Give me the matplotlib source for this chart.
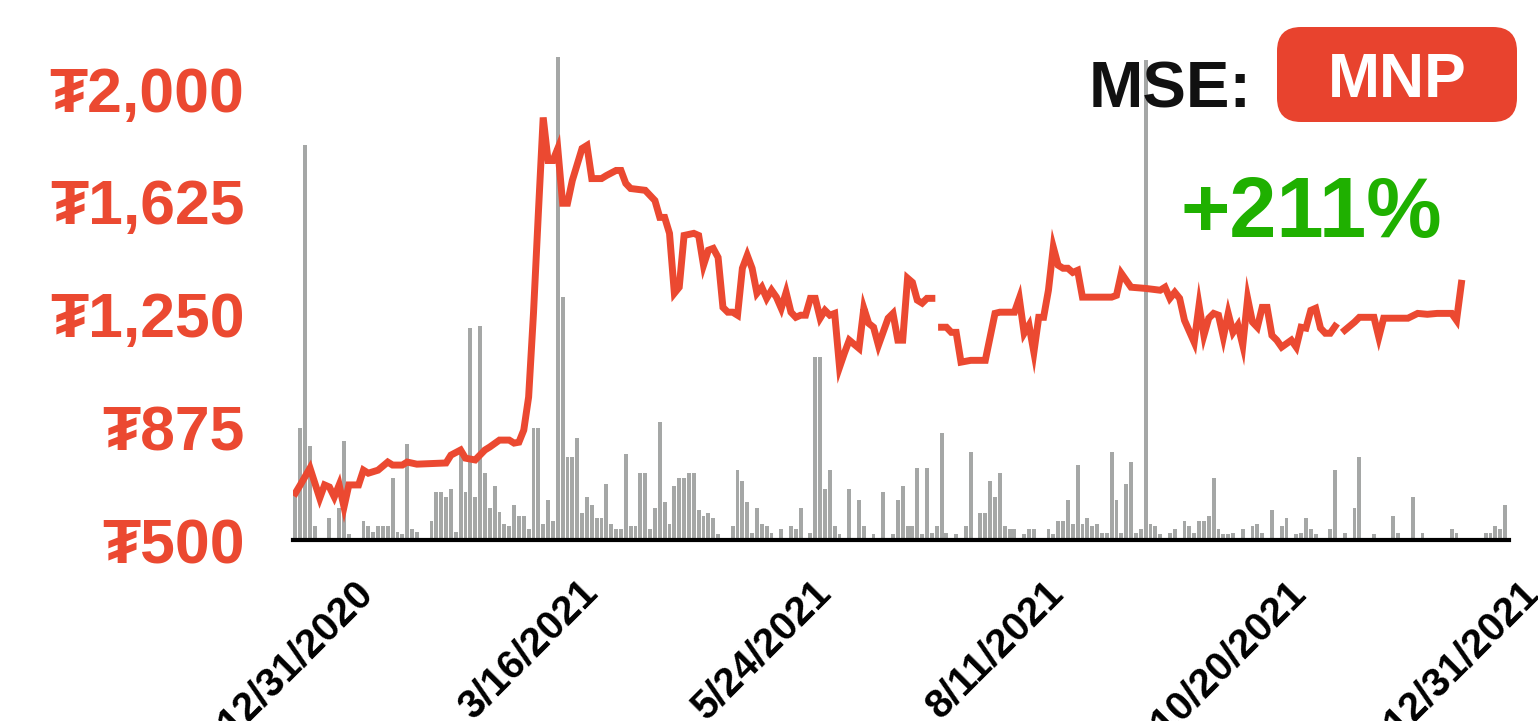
import numpy as np
import matplotlib.pyplot as plt
from matplotlib.patches import FancyBboxPatch

# closing price by trading session (nan = no trade)
price_day = [0, 1, 3, 5, 6, 7, 8, 9, 10, 11, 13, 14, 15, 17, 19, 20, 22, 23, 25, 31,
             32, 34, 35, 37, 39, 40, 42, 44, 45, 46, 47, 48, 49, 50, 51, 52, 53, 54, 55, 56,
             57, 59, 60, 61, 63, 64, 66, 67, 68, 69, 72, 73, 74, 75, 76, 77, 78, 79, 80, 82,
             83, 84, 85, 86, 87, 88, 89, 90, 91, 92, 93, 94, 95, 96, 97, 98, 99, 100, 101, 102,
             103, 104, 105, 106, 107, 108, 109, 110, 111, 112, 113, 114, 116, 117, 118, 119, 120, 122, 123, 124,
             125, 126, 127, 128, 129, 130, 131, 132, 133, 134, 135, 136, 137, 139, 142, 144, 145, 148, 149, 150,
             151, 152, 153, 154, 155, 156, 157, 158, 159, 160, 161, 162, 168, 169, 170, 171, 172, 175, 178, 179,
             180, 181, 182, 183, 185, 186, 187, 188, 189, 190, 191, 192, 193, 194, 195, 196, 197, 198, 199, 200,
             201, 202, 203, 205, 206, 207, 208, 209, 210, 211, 212, 213, 214, 215, 216, 218, 219, 222, 223, 224,
             229, 231, 233, 235, 238, 239, 240]
price_close = [656, 683, 739, 639, 683, 676, 643, 683, 610, 683, 683, 732, 722, 732, 759, 749, 749, 759, 752, 756,
               782, 799, 772, 766, 799, 809, 832, 832, 822, 825, 865, 975, 1253, 1585, 1904, 1761, 1761, 1801, 1619, 1619,
               1695, 1801, 1811, 1701, 1701, 1711, 1728, 1728, 1685, 1668, 1662, 1645, 1628, 1572, 1572, 1519, 1320, 1340, 1512, 1519,
               1512, 1413, 1463, 1469, 1439, 1273, 1257, 1257, 1247, 1403, 1446, 1403, 1320, 1340, 1303, 1330, 1307, 1270, 1323, 1257,
               1240, 1247, 1247, 1303, 1303, 1237, 1263, 1247, 1253, 1074, 1121, 1164, 1137, 1270, 1220, 1207, 1147, 1237, 1253, 1164,
               1164, 1370, 1356, 1297, 1287, 1303, 1303, np.nan, 1207, 1207, 1190, 1190, 1091, 1097, 1097, 1253, 1257, 1257, 1303, 1187,
               1214, 1124, 1240, 1240, 1330, 1473, 1413, 1403, 1403, 1389, 1396, 1307, 1307, 1313, 1386, 1363, 1340, 1336, 1330, 1340,
               1303, 1323, 1303, 1230, 1157, 1280, 1180, 1237, 1253, 1247, 1174, 1253, 1190, 1214, 1147, 1303, 1224, 1207, 1273, 1273,
               1180, 1164, 1141, 1164, 1141, 1207, 1204, 1263, 1270, 1204, 1187, 1187, 1210, np.nan, 1197, 1224, 1240, 1240, 1174, 1237,
               1237, 1253, 1250, 1253, 1253, 1230, 1353]

# traded volume (relative, peak = 100)
vol_day = [0, 1, 2, 3, 4, 7, 9, 10, 11, 14, 15, 16, 17, 18, 19, 20, 21, 22, 23, 24,
           25, 28, 29, 30, 31, 32, 33, 34, 35, 36, 37, 38, 39, 40, 41, 42, 43, 44, 45, 46,
           47, 48, 49, 50, 51, 52, 53, 54, 55, 56, 57, 58, 59, 60, 61, 62, 63, 64, 65, 66,
           67, 68, 69, 70, 71, 72, 73, 74, 75, 76, 77, 78, 79, 80, 81, 82, 83, 84, 85, 86,
           87, 90, 91, 92, 93, 94, 95, 96, 97, 98, 100, 102, 103, 104, 106, 107, 108, 109, 110, 111,
           112, 114, 116, 117, 119, 121, 123, 124, 125, 126, 127, 128, 129, 130, 131, 132, 133, 134, 136, 138,
           139, 141, 142, 143, 144, 145, 146, 147, 148, 150, 151, 152, 155, 156, 157, 158, 159, 160, 161, 162,
           163, 164, 165, 166, 167, 168, 169, 170, 171, 172, 173, 174, 175, 176, 177, 178, 180, 181, 183, 184,
           185, 186, 187, 188, 189, 190, 191, 192, 193, 195, 197, 198, 199, 201, 203, 204, 206, 207, 208, 209,
           210, 211, 213, 214, 216, 218, 219, 222, 226, 227, 230, 232, 238, 239, 240, 245, 246, 247, 248, 249]
vol_value = [10, 23.2, 81.8, 19.5, 2.9, 4.6, 6.7, 20.5, 1.2, 3.9, 2.9, 1.7, 2.9, 2.9, 2.9, 12.8, 1.7, 1.2, 19.9, 2.3,
             1.7, 3.9, 9.9, 9.9, 8.9, 10.6, 1.7, 18.2, 9.9, 43.9, 8.9, 44.3, 13.9, 6.6, 11.2, 5.8, 3.3, 2.9, 7.2, 5.0,
             5.0, 2.3, 23.2, 23.2, 3.3, 8.3, 3.9, 100, 50.3, 17.2, 17.2, 21.1, 5.6, 8.9, 7.2, 4.6, 4.6, 11.6, 3.3, 2.3,
             2.3, 17.8, 2.9, 2.9, 13.9, 13.9, 2.3, 6.6, 24.4, 7.9, 3.3, 11.2, 12.8, 12.8, 13.9, 13.9, 6.2, 5.0, 5.6, 4.6,
             1.2, 2.9, 14.5, 12.2, 7.9, 1.5, 6.6, 3.3, 2.9, 1.5, 2.3, 2.9, 2.3, 6.6, 1.5, 37.9, 37.9, 10.6, 14.5, 2.9,
             1.2, 10.6, 8.3, 2.9, 1.2, 9.9, 1.2, 8.3, 11.2, 2.9, 2.9, 14.9, 1.2, 14.9, 1.5, 2.9, 22.2, 1.5, 1.2, 2.9,
             18.2, 5.6, 5.6, 12.2, 8.9, 13.9, 2.9, 2.3, 2.3, 1.2, 2.3, 2.3, 2.3, 1.2, 3.9, 3.9, 8.3, 3.3, 15.5, 3.3,
             4.6, 2.9, 3.3, 1.5, 1.5, 18.2, 8.3, 1.5, 11.6, 16.1, 1.5, 2.3, 99.4, 3.3, 2.9, 1.2, 1.5, 2.3, 3.9, 2.9,
             1.5, 3.9, 3.9, 5.0, 12.8, 2.3, 1.2, 1.2, 1.5, 2.3, 2.9, 3.3, 1.5, 6.2, 2.9, 4.6, 1.2, 1.5, 4.6, 2.3,
             1.2, 0.5, 2.3, 14.5, 1.5, 6.6, 17.2, 1.2, 5.0, 1.5, 8.9, 1.5, 2.3, 1.5, 0.5, 1.5, 1.5, 2.9, 2.3, 7.2]

tick_days = [0, 48, 96, 144, 192, 240]
tick_labels = ['12/31/2020', '3/16/2021', '5/24/2021', '8/11/2021', '10/20/2021', '12/31/2021']
price_ticks = [500, 875, 1250, 1625, 2000]

plt.rcParams['font.family'] = ['Liberation Sans', 'DejaVu Sans']
plt.rcParams['font.weight'] = 'bold'

RED = '#EB4931'

fig = plt.figure(figsize=(15.38, 7.21), dpi=100)
ax = fig.add_axes([293 / 1538, 181 / 721, 1216 / 1538, 483 / 721])
vax = ax.twinx()
ax.set_zorder(2)
ax.patch.set_visible(False)

n_sessions = 250
vol = np.zeros(n_sessions)
vol[vol_day] = vol_value
vax.bar(np.arange(n_sessions), vol, width=0.8, color='#A5A7A6', linewidth=0)
vax.set_ylim(0, 100)
vax.set_axis_off()

ax.plot(price_day, price_close, color=RED, lw=5, solid_joinstyle='miter')
ax.set_xlim(-0.5, 249.8)
ax.set_ylim(500, 2105)

ax.set_yticks(price_ticks, labels=['₮{:,}'.format(v) for v in price_ticks])
ax.tick_params(axis='y', length=0, pad=35, labelsize=45, labelcolor=RED)
ax.set_xticks(tick_days, labels=tick_labels, rotation=45)
ax.tick_params(axis='x', length=0, pad=24, labelsize=29, labelcolor='black')

for s in ['top', 'left', 'right']:
    ax.spines[s].set_visible(False)
ax.spines['bottom'].set_linewidth(3)
ax.spines['bottom'].set_color('black')

# ticker badge
fig.text(1252 / 1538, 1 - 108 / 721, 'MSE:', ha='right', va='baseline',
         fontsize=47, fontweight='bold', color='#111111')
lax = fig.add_axes([1277 / 1538, 1 - 122 / 721, 240 / 1538, 95 / 721])
lax.set_xlim(0, 240)
lax.set_ylim(0, 95)
lax.axis('off')
lax.add_patch(FancyBboxPatch((0, 0), 240, 95, boxstyle='round,pad=0,rounding_size=24',
                             fc='#E8432E', ec='none', clip_on=False))
lax.text(120, 25, 'MNP', ha='center', va='baseline', color='white', fontsize=45, fontweight='bold')

fig.text(1311 / 1538, 1 - 237 / 721, '+211%', ha='center', va='baseline',
         fontsize=61, fontweight='bold', color='#1FB000')

fig.savefig('out.png', dpi=100)
